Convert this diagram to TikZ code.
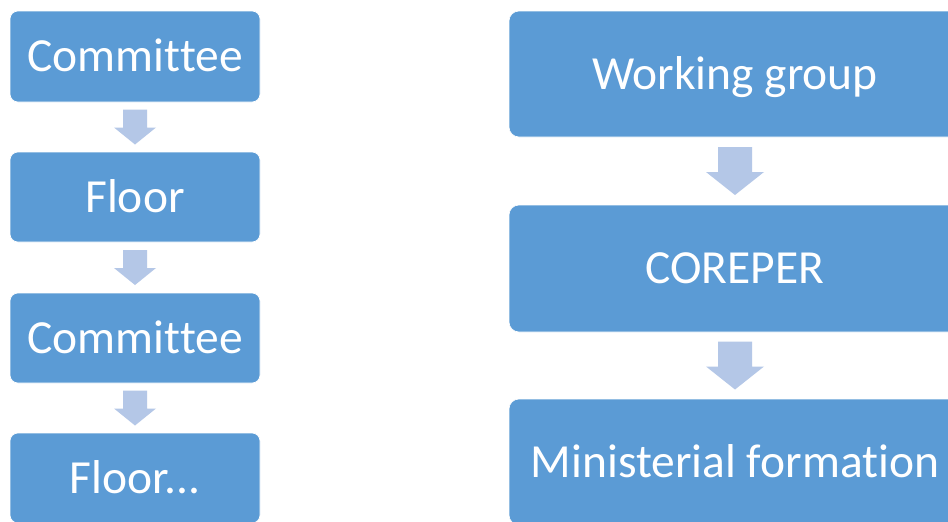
\documentclass[tikz,border=0pt]{standalone}
\usepackage{fontspec}
\setmainfont{Carlito}[Ligatures={NoCommon,NoContextual},Contextuals=NoAlternate]
\usetikzlibrary{calc}
\definecolor{boxblue}{HTML}{5B9BD5}
\definecolor{arrowblue}{HTML}{B4C7E7}
\newcommand\flowarrow[6]{% from, to, half stem, half head, half length, head length
  \fill[arrowblue]
    ($($(#1.south)!0.5!(#2.north)$)+(-#3,-#5)$) --
    ($($(#1.south)!0.5!(#2.north)$)+(#3,-#5)$) --
    ($($(#1.south)!0.5!(#2.north)$)+(#3,#5-#6)$) --
    ($($(#1.south)!0.5!(#2.north)$)+(#4,#5-#6)$) --
    ($($(#1.south)!0.5!(#2.north)$)+(0,#5)$) --
    ($($(#1.south)!0.5!(#2.north)$)+(-#4,#5-#6)$) --
    ($($(#1.south)!0.5!(#2.north)$)+(-#3,#5-#6)$) -- cycle;}
\begin{document}
\begin{tikzpicture}[x=1pt,y=-1pt,
  box/.style={fill=boxblue,draw=white,line width=0.6pt,rounded corners=8pt,
    text=white,font=\fontsize{47.5}{52}\selectfont,text height=30.6pt,text depth=0pt,
    inner sep=0pt,anchor=center},
  lbox/.style={box,minimum width=250pt,minimum height=90pt},
  rbox/.style={box,rounded corners=10pt,minimum width=452pt,minimum height=126pt}]
\clip (0,0) rectangle (948,522);
\fill[white] (0,0) rectangle (948,522);
\node[lbox,minimum height=91pt] (c1) at (135,56.5) {Commit\kern0pt tee};
\node[lbox] (f1) at (135,197) {Floor};
\node[lbox] (c2) at (135,338) {Commit\kern0pt tee};
\node[lbox] (f2) at (135,478) {Floor.\kern0pt.\kern0pt.};
\flowarrow{c1}{f1}{12}{21}{17.5}{17}
\flowarrow{f1}{c2}{12}{21}{17.5}{17}
\flowarrow{c2}{f2}{12}{21}{17.5}{17}
\node[rbox] (wg) at (735,74) {Working group};
\node[rbox,minimum height=127pt] (cp) at (735,268.5) {COREPER};
\node[rbox] (mf) at (735,462) {Ministerial formation};
\flowarrow{wg}{cp}{17}{29}{24}{23}
\flowarrow{cp}{mf}{17}{29}{24}{23}
\end{tikzpicture}
\end{document}
